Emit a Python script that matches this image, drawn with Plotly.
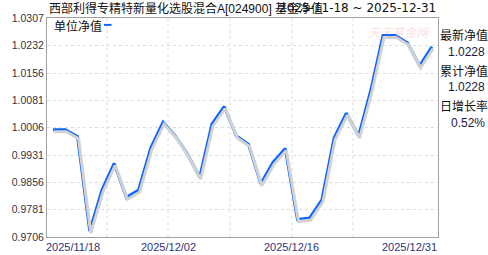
import plotly.graph_objects as go

dates = ["2025-11-18", "2025-11-19", "2025-11-20", "2025-11-21",
         "2025-11-24", "2025-11-25", "2025-11-26", "2025-11-27", "2025-11-28",
         "2025-12-01", "2025-12-02", "2025-12-03", "2025-12-04", "2025-12-05",
         "2025-12-08", "2025-12-09", "2025-12-10", "2025-12-11", "2025-12-12",
         "2025-12-15", "2025-12-16", "2025-12-17", "2025-12-18", "2025-12-19",
         "2025-12-22", "2025-12-23", "2025-12-24", "2025-12-25", "2025-12-26",
         "2025-12-29", "2025-12-30", "2025-12-31"]
nav = [1.0000, 1.0000, 0.9981, 0.9722,
       0.9835, 0.9908, 0.9815, 0.9835, 0.9951,
       1.0021, 0.9983, 0.9933, 0.9870, 1.0016,
       1.0064, 0.9983, 0.9960, 0.9852, 0.9911,
       0.9949, 0.9754, 0.9758, 0.9808, 0.9978,
       1.0046, 0.9983, 1.0108, 1.0259, 1.0259,
       1.0239, 1.0176, 1.0228]
y_ticks = ["0.9706", "0.9781", "0.9856", "0.9931", "1.0006",
           "1.0081", "1.0156", "1.0232", "1.0307"]
x_labels = ["2025/11/18", "2025/12/02", "2025/12/16", "2025/12/31"]
title_text = "西部利得专精特新量化选股混合A[024900] 基金净值"
range_text = "2025-11-18 ~ 2025-12-31"
legend_name = "单位净值"
side_labels = ["最新净值", "累计净值", "日增长率"]
side_values = ["1.0228", "1.0228", "0.52%"]

FONT = "Arial, 'Liberation Sans', 'Noto Sans CJK SC', sans-serif"
ymin, ymax = float(y_ticks[0]), float(y_ticks[-1])
n = len(dates)
px_per_cat = 391 / n
px_per_val = (ymax - ymin) / 223

fig = go.Figure()
# shadow
fig.add_trace(go.Scatter(x=dates, y=nav, mode="lines", xaxis="x2", yaxis="y2",
                         line=dict(color="#d2d2d2", width=3), hoverinfo="skip",
                         showlegend=False))
fig.add_trace(go.Scatter(x=dates, y=nav, mode="lines",
                         line=dict(color="#0a64ff", width=3), name=legend_name,
                         showlegend=False))

fig.update_layout(
    width=488, height=255,
    margin=dict(l=47, r=50, t=18, b=14),
    paper_bgcolor="white", plot_bgcolor="white",
    font=dict(family=FONT, size=11, color="#333"),
    xaxis=dict(type="category", range=[-0.5, n - 0.5], showticklabels=False,
               showgrid=False, zeroline=False, showline=True, mirror=True,
               linecolor="#a0a0a0", linewidth=1, ticks=""),
    xaxis2=dict(type="category", overlaying="x",
                range=[-0.5 - 1 / px_per_cat, n - 0.5 - 1 / px_per_cat],
                visible=False),
    yaxis=dict(range=[ymin, ymax], tickvals=[float(t) for t in y_ticks],
               ticktext=y_ticks, showgrid=True, gridcolor="#dddddd",
               griddash="3px,3px", zeroline=False, showline=True, mirror=True,
               linecolor="#a0a0a0", linewidth=1, ticks="",
               tickfont=dict(size=10.5, color="#333340")),
    yaxis2=dict(overlaying="y", range=[ymin + 2 * px_per_val, ymax + 2 * px_per_val],
                visible=False),
    showlegend=False,
)

# vertical dashed grid
for gx in [107, 168, 230, 292, 353]:
    fx = (gx - 47) / 391
    fig.add_shape(type="line", xref="paper", yref="paper", x0=fx, x1=fx, y0=0, y1=1,
                  line=dict(color="#dddddd", width=1, dash="3px,3px"), layer="below")

def px_x(p):
    return (p - 47) / 391

def px_y(p):
    return 1 - (p - 18) / 223

ann = []
# title
ann.append(dict(text=title_text, x=px_x(47), y=px_y(8), xanchor="left", yanchor="middle",
                font=dict(size=12, color="#111")))
ann.append(dict(text=range_text, x=px_x(277), y=px_y(8), xanchor="left", yanchor="middle",
                font=dict(size=12, color="#111", family="'DejaVu Sans', Verdana, sans-serif")))
# legend
ann.append(dict(text=legend_name, x=px_x(52), y=px_y(27), xanchor="left", yanchor="middle",
                font=dict(size=12, color="#111")))
fig.add_shape(type="rect", xref="paper", yref="paper", x0=px_x(104), x1=px_x(111.5),
              y0=px_y(26), y1=px_y(24), fillcolor="#0a64ff", line=dict(width=0))
# watermark
ann.append(dict(text="<i>天天基金网</i>", x=px_x(399), y=px_y(33), xanchor="center",
                yanchor="middle", font=dict(size=12, color="rgba(240,120,120,0.25)")))
# x labels
xl_pos = [(px_x(44), "left"), (px_x(168), "center"), (px_x(291), "center"), (px_x(439), "right")]
for lab, (xp, anc) in zip(x_labels, xl_pos):
    ann.append(dict(text=lab, x=xp, y=px_y(251), xanchor=anc, yanchor="middle",
                    font=dict(size=11, color="#33337a")))
# side panel
label_y = [36, 72, 108]
value_y = [52.5, 88.5, 124.5]
for lab, val, ly, vy in zip(side_labels, side_values, label_y, value_y):
    ann.append(dict(text=lab, x=px_x(439), y=px_y(ly), xanchor="left", yanchor="middle",
                    borderpad=0, font=dict(size=12, color="#111")))
    ann.append(dict(text=val, x=px_x(487), y=px_y(vy), xanchor="right", yanchor="middle",
                    font=dict(size=12, color="#1a1a40")))
for a in ann:
    a.update(xref="paper", yref="paper", showarrow=False)
fig.update_layout(annotations=ann)

fig.write_html("out.html")
